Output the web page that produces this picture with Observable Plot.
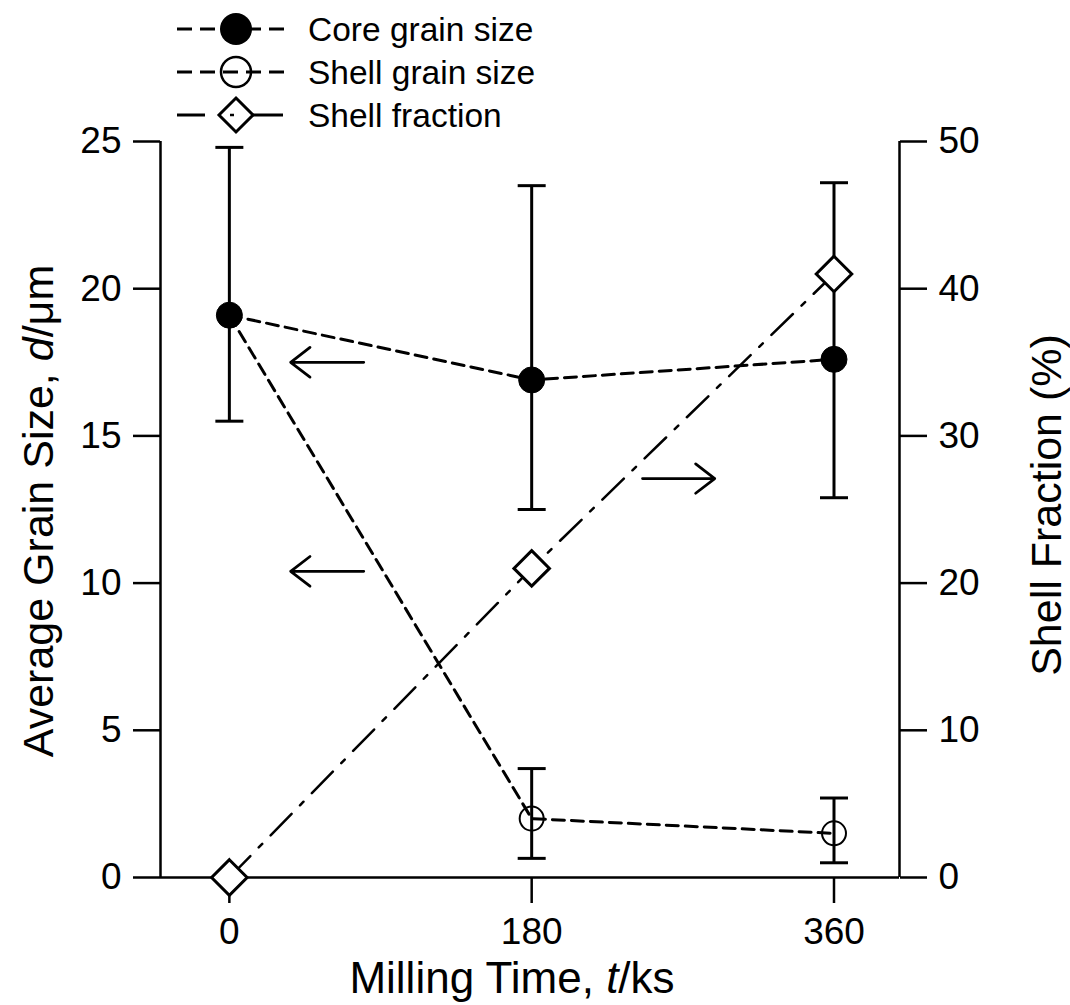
<!DOCTYPE html>
<html>
<head>
<meta charset="utf-8">
<script src="https://cdn.jsdelivr.net/npm/d3@7"></script>
<script src="https://cdn.jsdelivr.net/npm/@observablehq/plot@0.6"></script>
<style>
  body { margin: 0; background: #fff; font-family: "Liberation Sans", Arial, sans-serif; }
  #legend { display: block; width: 1070px; height: 120px; overflow: visible; position: relative; z-index: 2; }
  #chart { position: relative; z-index: 1; }
  #chart svg { display: block; }
</style>
</head>
<body>
<svg id="legend" width="1070" height="120"></svg>
<div id="chart"></div>
<script>
// ---- data ----
const times = [0, 180, 360];                    // milling time, ks
const coreSize = [19.1, 16.9, 17.6];            // core grain size, µm
const coreErrLow = [15.5, 12.5, 12.9];
const coreErrHigh = [24.8, 23.5, 23.6];
const shellSize = [19.1, 2.0, 1.5];             // shell grain size, µm (starts at core point)
const shellErrLow = [null, 0.65, 0.5];
const shellErrHigh = [null, 3.7, 2.7];
const shellFraction = [0, 21.0, 41.0];          // shell fraction, %
const leftTicks = [0, 5, 10, 15, 20, 25];
const rightTicks = [0, 10, 20, 30, 40, 50];
const xTicks = [0, 180, 360];
const legendLabels = ["Core grain size", "Shell grain size", "Shell fraction"];
// annotation arrows: which axis they point to
const arrowsToLeft = [{x1: 80, x2: 36.5, y: 17.5}, {x1: 80, x2: 36.5, y: 10.4}];
const arrowsToRight = [{x1: 246, x2: 289, y: 27.1}]; // y in %

const xDomain = [-41, 399];
const yDomain = [0, 25];
const rightMax = 50;
const toLeft = p => p * yDomain[1] / rightMax;

const core = times.map((t, i) => ({t, v: coreSize[i], lo: coreErrLow[i], hi: coreErrHigh[i]}));
const shell = times.map((t, i) => ({t, v: shellSize[i], lo: shellErrLow[i], hi: shellErrHigh[i]}));
const frac = times.map((t, i) => ({t, v: toLeft(shellFraction[i])}));
const shellBars = shell.filter(d => d.lo != null);
const shellMarkers = shell.slice(1);
const rightArrows = arrowsToRight.map(d => ({...d, y: toLeft(d.y)}));

const capSymbol = {
  draw(ctx, size) {
    const r = Math.sqrt(size / Math.PI);
    ctx.moveTo(-r, 0);
    ctx.lineTo(r, 0);
  }
};

const plot = Plot.plot({
  width: 1070,
  height: 885,
  marginTop: 21,
  marginBottom: 128,
  marginLeft: 160,
  marginRight: 171,
  style: {fontFamily: '"Liberation Sans", Arial, sans-serif', fontSize: "37px", color: "#000", background: "transparent", overflow: "visible"},
  x: {domain: xDomain, label: null},
  y: {domain: yDomain, label: null},
  marks: [
    Plot.ruleX(xDomain, {stroke: "#000", strokeWidth: 2.5}),
    Plot.ruleY([0], {stroke: "#000", strokeWidth: 2.5}),
    Plot.axisY({ticks: leftTicks, tickSize: 27, tickPadding: 12, strokeWidth: 2.5, fontSize: 37, label: null}),
    Plot.axisY({anchor: "right", ticks: rightTicks.map(toLeft), tickFormat: d => String(Math.round(d * rightMax / yDomain[1])),
      tickSize: 27, tickPadding: 12, strokeWidth: 2.5, fontSize: 37, label: null}),
    Plot.axisX({ticks: xTicks, tickSize: 26, tickPadding: 14, strokeWidth: 2.5, fontSize: 37, label: null}),
    // lines
    Plot.line(frac, {x: "t", y: "v", stroke: "#000", strokeWidth: 2.5, strokeDasharray: "30,12,5,12"}),
    Plot.line(shell, {x: "t", y: "v", stroke: "#000", strokeWidth: 3, strokeDasharray: "12,7"}),
    Plot.line(core, {x: "t", y: "v", stroke: "#000", strokeWidth: 3, strokeDasharray: "12,7"}),
    // error bars
    Plot.ruleX(core, {x: "t", y1: "lo", y2: "hi", stroke: "#000", strokeWidth: 3}),
    Plot.ruleX(shellBars, {x: "t", y1: "lo", y2: "hi", stroke: "#000", strokeWidth: 3}),
    Plot.dot(core, {x: "t", y: "lo", symbol: capSymbol, r: 14, stroke: "#000", strokeWidth: 3, fill: "none"}),
    Plot.dot(core, {x: "t", y: "hi", symbol: capSymbol, r: 14, stroke: "#000", strokeWidth: 3, fill: "none"}),
    Plot.dot(shellBars, {x: "t", y: "lo", symbol: capSymbol, r: 14, stroke: "#000", strokeWidth: 3, fill: "none"}),
    Plot.dot(shellBars, {x: "t", y: "hi", symbol: capSymbol, r: 14, stroke: "#000", strokeWidth: 3, fill: "none"}),
    // markers
    Plot.dot(shellMarkers, {x: "t", y: "v", r: 12, stroke: "#000", strokeWidth: 2, fill: "none"}),
    Plot.dot(core, {x: "t", y: "v", r: 13, fill: "#000", stroke: "#000", strokeWidth: 1}),
    Plot.dot(frac, {x: "t", y: "v", symbol: "diamond2", r: 16, stroke: "#000", strokeWidth: 3, fill: "#fff"}),
    // annotation arrows
    Plot.arrow(arrowsToLeft, {x1: "x1", x2: "x2", y1: "y", y2: "y", stroke: "#000", strokeWidth: 2.8, headLength: 14, headAngle: 75}),
    Plot.arrow(rightArrows, {x1: "x1", x2: "x2", y1: "y", y2: "y", stroke: "#000", strokeWidth: 2.8, headLength: 14, headAngle: 75})
  ]
});
document.getElementById("chart").appendChild(plot);

// axis titles with italic symbols
const svg = d3.select(plot);
const ys = plot.scale("y");
const font = '"Liberation Sans", Arial, sans-serif';

const yl = svg.append("text")
  .attr("transform", `translate(53,${(ys.range[0] + ys.range[1]) / 2 + 2}) rotate(-90)`)
  .attr("text-anchor", "middle").attr("font-size", 43).attr("font-family", font).attr("fill", "#000");
yl.append("tspan").text("Average Grain Size, ");
yl.append("tspan").attr("font-style", "italic").text("d");
yl.append("tspan").text("/μm");

svg.append("text")
  .attr("transform", `translate(1061,${(ys.range[0] + ys.range[1]) / 2 - 4}) rotate(-90)`)
  .attr("text-anchor", "middle").attr("font-size", 43).attr("font-family", font).attr("fill", "#000")
  .text("Shell Fraction (%)");

const xl = svg.append("text")
  .attr("x", 512).attr("y", 873)
  .attr("text-anchor", "middle").attr("font-size", 44).attr("font-family", font).attr("fill", "#000");
xl.append("tspan").text("Milling Time, ");
xl.append("tspan").attr("font-style", "italic").text("t");
xl.append("tspan").text("/ks");

// legend (above the plot)
const lg = d3.select("#legend");
const rowsY = [29, 72, 115];
const lx0 = 177, lx1 = 290, mx = 236, tx = 308;
// row 1: core
lg.append("line").attr("x1", lx0).attr("x2", lx1).attr("y1", rowsY[0]).attr("y2", rowsY[0])
  .attr("stroke", "#000").attr("stroke-width", 3).attr("stroke-dasharray", "15,8");
lg.append("circle").attr("cx", mx).attr("cy", rowsY[0]).attr("r", 16).attr("fill", "#000");
// row 2: shell
lg.append("line").attr("x1", lx0).attr("x2", lx1).attr("y1", rowsY[1]).attr("y2", rowsY[1])
  .attr("stroke", "#000").attr("stroke-width", 3).attr("stroke-dasharray", "15,8");
lg.append("circle").attr("cx", mx).attr("cy", rowsY[1]).attr("r", 15).attr("fill", "none")
  .attr("stroke", "#000").attr("stroke-width", 2.5);
// row 3: fraction
lg.append("line").attr("x1", lx0).attr("x2", 205).attr("y1", rowsY[2]).attr("y2", rowsY[2])
  .attr("stroke", "#000").attr("stroke-width", 3);
lg.append("path").attr("d", `M${mx},${rowsY[2] - 17}L${mx + 17},${rowsY[2]}L${mx},${rowsY[2] + 17}L${mx - 17},${rowsY[2]}Z`)
  .attr("fill", "#fff").attr("stroke", "#000").attr("stroke-width", 3);
lg.append("line").attr("x1", mx - 6).attr("x2", mx - 2).attr("y1", rowsY[2]).attr("y2", rowsY[2])
  .attr("stroke", "#000").attr("stroke-width", 2.5);
lg.append("line").attr("x1", mx + 17).attr("x2", 283).attr("y1", rowsY[2]).attr("y2", rowsY[2])
  .attr("stroke", "#000").attr("stroke-width", 3);
legendLabels.forEach((t, i) => {
  lg.append("text").attr("x", tx).attr("y", rowsY[i]).attr("dy", "0.36em")
    .attr("font-size", 33.5).attr("font-family", font).attr("fill", "#000").text(t);
});
</script>
</body>
</html>
